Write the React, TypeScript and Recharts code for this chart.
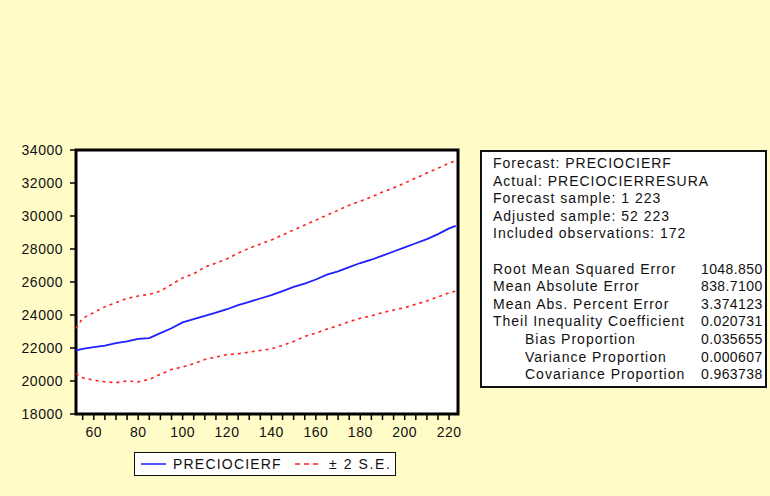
import { LineChart, Line, XAxis, YAxis, ReferenceArea, Legend } from 'recharts';

const obs = [52, 55, 60, 65, 70, 75, 80, 85, 90, 95, 100, 105, 110, 115, 120, 125, 130, 135, 140, 145, 150, 155, 160, 165, 170, 175, 180, 185, 190, 195, 200, 205, 210, 215, 220, 223];
const forecast = [21850, 21950, 22050, 22150, 22300, 22400, 22550, 22600, 22900, 23200, 23550, 23750, 23950, 24150, 24350, 24600, 24800, 25000, 25200, 25450, 25700, 25900, 26150, 26450, 26650, 26900, 27150, 27350, 27600, 27850, 28100, 28350, 28600, 28900, 29250, 29400];
const upper = [23200, 23800, 24150, 24500, 24750, 25000, 25150, 25250, 25450, 25850, 26250, 26500, 26900, 27150, 27400, 27750, 28050, 28300, 28550, 28850, 29150, 29450, 29750, 30050, 30350, 30650, 30900, 31150, 31450, 31700, 32000, 32300, 32600, 32900, 33200, 33350];
const lower = [20450, 20200, 20050, 19950, 19900, 20000, 19950, 20100, 20400, 20700, 20850, 21050, 21300, 21450, 21600, 21650, 21750, 21850, 21950, 22150, 22400, 22700, 22900, 23150, 23350, 23600, 23800, 23950, 24150, 24300, 24450, 24650, 24850, 25100, 25350, 25450];

const yTicks = [18000, 20000, 22000, 24000, 26000, 28000, 30000, 32000, 34000];
const xTicks = [55, 60, 65, 70, 75, 80, 85, 90, 95, 100, 105, 110, 115, 120, 125, 130, 135, 140, 145, 150, 155, 160, 165, 170, 175, 180, 185, 190, 195, 200, 205, 210, 215, 220];

const headerLines = [
  'Forecast: PRECIOCIERF',
  'Actual: PRECIOCIERRESURA',
  'Forecast sample: 1 223',
  'Adjusted sample: 52 223',
  'Included observations: 172',
];
const statLabels = ['Root Mean Squared Error', 'Mean Absolute Error', 'Mean Abs. Percent Error', 'Theil Inequality Coefficient', 'Bias Proportion', 'Variance Proportion', 'Covariance Proportion'];
const statValues = ['1048.850', '838.7100', '3.374123', '0.020731', '0.035655', '0.000607', '0.963738'];
const statIndent = [false, false, false, false, true, true, true];

const data = obs.map((x, i) => ({ x, f: forecast[i], up: upper[i], lo: lower[i] }));

const FONT = "'Liberation Sans', Arial, sans-serif";
const BLUE = '#1f1fff';
const RED = '#ff1f1f';

function LegendBox() {
  return (
    <div
      style={{
        width: 262,
        height: 24,
        boxSizing: 'border-box',
        border: '1.5px solid #111',
        background: '#fff',
        display: 'flex',
        alignItems: 'center',
        fontFamily: FONT,
        fontSize: 14,
        letterSpacing: 1.2,
        color: '#111',
      }}
    >
      <svg width={26} height={10} style={{ marginLeft: 6 }}>
        <line x1={0} y1={5} x2={25} y2={5} stroke={BLUE} strokeWidth={1.5} />
      </svg>
      <span style={{ marginLeft: 6 }}>PRECIOCIERF</span>
      <svg width={24} height={10} style={{ marginLeft: 13 }}>
        <line x1={0} y1={5} x2={24} y2={5} stroke={RED} strokeWidth={1.5} strokeDasharray="5 4" />
      </svg>
      <span style={{ marginLeft: 10, letterSpacing: 1.6 }}>± 2 S.E.</span>
    </div>
  );
}

export default function App() {
  const lineH = 17.6;
  return (
    <div style={{ position: 'fixed', left: 0, top: 0, width: 770, height: 496, background: '#fffcc8', overflow: 'hidden' }}>
      <LineChart
        width={770}
        height={496}
        data={data}
        margin={{ top: 150, right: 312, bottom: 52, left: 10 }}
        style={{ fontFamily: FONT }}
      >
        <ReferenceArea x1={52} x2={224} y1={18000} y2={34000} fill="#fff" fillOpacity={1} stroke="#000" strokeWidth={3} />
        <XAxis
          dataKey="x"
          type="number"
          domain={[52, 224]}
          ticks={xTicks}
          interval={0}
          tickFormatter={(v: number) => (v % 20 === 0 ? String(v) : '')}
          axisLine={false}
          tickLine={{ stroke: '#000', strokeWidth: 1.5 }}
          tickSize={6}
          tickMargin={7}
          height={30}
          tick={{ fill: '#111', fontSize: 14, letterSpacing: 0.5 }}
        />
        <YAxis
          type="number"
          domain={[18000, 34000]}
          ticks={yTicks}
          interval={0}
          axisLine={false}
          tickLine={{ stroke: '#000', strokeWidth: 1.5 }}
          tickSize={6}
          tickMargin={7}
          width={66}
          tick={{ fill: '#111', fontSize: 14, letterSpacing: 0.5 }}
        />
        <Line dataKey="up" stroke={RED} strokeWidth={1.6} strokeDasharray="3 4" dot={false} isAnimationActive={false} />
        <Line dataKey="lo" stroke={RED} strokeWidth={1.6} strokeDasharray="3 4" dot={false} isAnimationActive={false} />
        <Line dataKey="f" stroke={BLUE} strokeWidth={1.8} dot={false} isAnimationActive={false} />
        <Legend
          layout="horizontal"
          verticalAlign="middle"
          content={() => <LegendBox />}
          wrapperStyle={{ position: 'absolute', left: 134, top: 452, width: 262, height: 24 }}
        />
      </LineChart>
      <div
        style={{
          position: 'absolute',
          left: 480,
          top: 150,
          width: 287,
          height: 238,
          boxSizing: 'border-box',
          border: '2px solid #111',
          background: '#fff',
          padding: '3px 0 0 11px',
          fontFamily: FONT,
          fontSize: 14,
          letterSpacing: 1,
          lineHeight: `${lineH}px`,
          color: '#111',
        }}
      >
        {headerLines.map((t) => (
          <div key={t} style={{ whiteSpace: 'nowrap' }}>{t}</div>
        ))}
        <div style={{ height: lineH }} />
        {statLabels.map((t, i) => (
          <div key={t} style={{ position: 'relative', whiteSpace: 'nowrap', height: lineH }}>
            <span style={{ marginLeft: statIndent[i] ? 32 : 0 }}>{t}</span>
            <span style={{ position: 'absolute', left: 208, letterSpacing: 0.4 }}>{statValues[i]}</span>
          </div>
        ))}
      </div>
    </div>
  );
}
